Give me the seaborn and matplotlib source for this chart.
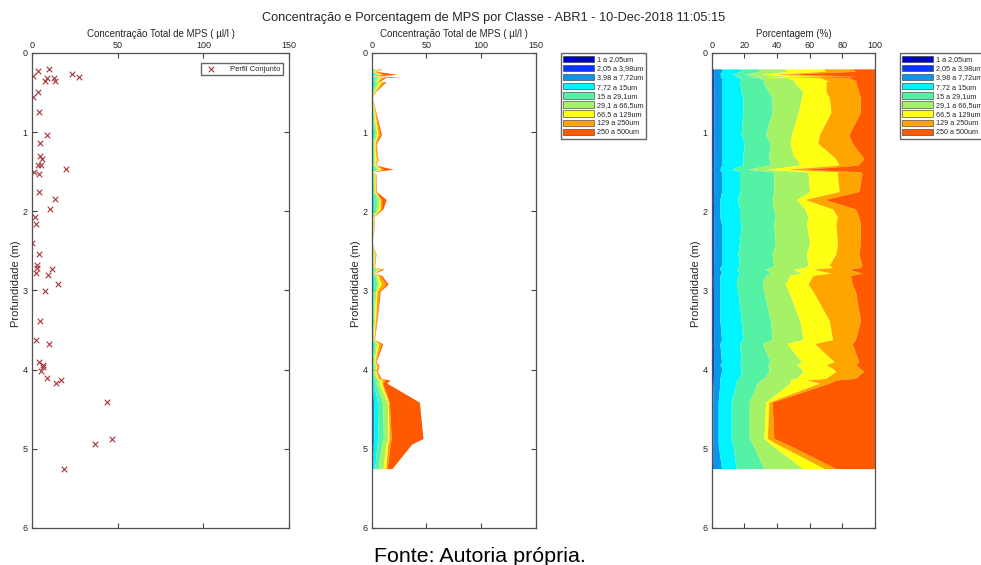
import numpy as np
import pandas as pd
import matplotlib
matplotlib.use('Agg')
import matplotlib.pyplot as plt
from matplotlib.patches import Patch
import seaborn as sns

# profundidade das amostras (m) e concentracao total de MPS (ul/l)
depth = [0.20, 0.23, 0.27, 0.29, 0.30, 0.31, 0.31, 0.36, 0.36, 0.49,
         0.56, 0.75, 1.03, 1.14, 1.30, 1.34, 1.41, 1.42, 1.47, 1.50,
         1.53, 1.75, 1.85, 1.97, 2.07, 2.16, 2.40, 2.54, 2.68, 2.71,
         2.73, 2.78, 2.81, 2.92, 3.01, 3.38, 3.62, 3.67, 3.90, 3.94,
         3.97, 4.02, 4.11, 4.13, 4.17, 4.41, 4.87, 4.94, 5.25]
total = [9.7, 3.5, 23.3, 0.5, 27.6, 8.7, 12.6, 7.4, 13.2, 3.5,
         0.4, 3.9, 8.9, 4.5, 4.9, 6.0, 3.7, 5.2, 19.8, 1.0,
         3.9, 4.3, 13.2, 10.3, 1.9, 2.5, 0.3, 3.9, 2.7, 3.1,
         11.5, 2.5, 9.3, 15.0, 7.8, 4.9, 2.5, 10.1, 4.1, 6.4,
         6.4, 5.1, 8.6, 16.7, 13.8, 43.6, 46.9, 36.6, 18.5]

# porcentagem acumulada (%) ate o fim de cada classe
cum_1 = [0.3, 0.3, 0.2, 0.4, 0.2, 0.3, 0.3, 0.3, 0.3, 0.4,
         0.4, 0.3, 0.3, 0.4, 0.3, 0.3, 0.3, 0.3, 0.2, 0.4,
         0.3, 0.3, 0.2, 0.3, 0.3, 0.3, 0.4, 0.3, 0.3, 0.3,
         0.2, 0.3, 0.2, 0.2, 0.3, 0.3, 0.3, 0.2, 0.3, 0.3,
         0.3, 0.3, 0.2, 0.2, 0.2, 0.1, 0.1, 0.1, 0.2]
cum_2 = [1.2, 1.3, 0.9, 1.4, 0.9, 1.2, 1.1, 1.2, 1.1, 1.3,
         1.4, 1.3, 1.2, 1.3, 1.2, 1.2, 1.3, 1.2, 0.9, 1.4,
         1.2, 1.2, 1.0, 1.1, 1.2, 1.2, 1.3, 1.2, 1.2, 1.1,
         1.0, 1.2, 1.0, 1.0, 1.1, 1.1, 1.2, 1.0, 1.2, 1.1,
         1.2, 1.2, 1.0, 1.0, 0.9, 0.6, 0.6, 0.7, 1.0]
cum_3 = [6, 6, 5, 6, 5, 6, 6, 6, 6, 6,
         6, 6, 6, 6, 6, 6, 6, 6, 5, 6,
         6, 6, 5, 5, 5, 6, 6, 6, 6, 5,
         5, 6, 5, 5, 5, 5, 6, 5, 6, 5,
         6, 6, 5, 5, 5, 4, 4, 4, 6]
cum_4 = [17, 18, 12, 18, 13, 19, 17, 18, 17, 18,
         19, 19, 18, 20, 19, 19, 19, 18, 12, 18,
         17, 17, 16, 17, 17, 18, 17, 16, 17, 16,
         15, 17, 16, 15, 16, 18, 19, 17, 18, 17,
         18, 18, 17, 15, 15, 12, 12, 13, 15]
cum_5 = [28, 30, 20, 31, 22, 32, 29, 33, 31, 35,
         37, 37, 33, 36, 35, 35, 36, 34, 22, 37,
         38, 38, 37, 38, 39, 38, 39, 37, 38, 36,
         33, 36, 33, 31, 32, 36, 37, 31, 36, 34,
         35, 35, 32, 30, 28, 23, 23, 25, 32]
cum_6 = [44, 47, 30, 48, 33, 50, 46, 52, 50, 56,
         55, 53, 49, 48, 50, 52, 54, 52, 34, 58,
         59, 60, 52, 57, 59, 58, 60, 58, 59, 57,
         50, 55, 48, 45, 47, 54, 56, 46, 55, 52,
         54, 56, 52, 48, 48, 33, 32, 36, 56]
cum_7 = [68, 70, 40, 71, 44, 70, 66, 72, 70, 70,
         72, 73, 66, 65, 74, 76, 78, 75, 46, 77,
         77, 78, 57, 74, 77, 76, 77, 76, 72, 74,
         62, 73, 62, 59, 62, 72, 74, 63, 75, 70,
         73, 76, 70, 58, 66, 35, 34, 40, 69]
cum_8 = [86, 88, 46, 89, 52, 88, 84, 89, 88, 90,
         91, 91, 84, 86, 92, 93, 90, 88, 56, 91,
         92, 90, 69, 88, 90, 91, 91, 90, 92, 91,
         84, 92, 85, 86, 88, 91, 88, 86, 90, 88,
         90, 93, 88, 76, 72, 37, 38, 46, 76]
cum_9 = [100] * len(depth)

classes = ['1 a 2,05um', '2,05 a 3,98um', '3,98 a 7,72um', '7,72 a 15um',
           '15 a 29,1um', '29,1 a 66,5um', '66,5 a 129um', '129 a 250um',
           '250 a 500um']
class_colors = ['#0000C8', '#0038FF', '#0A96E8', '#00F4FF', '#55F2A6',
                '#A6F266', '#FFFF14', '#FFA500', '#FF5A00']

df = pd.DataFrame({'depth': depth, 'total': total})
cum = np.array([cum_1, cum_2, cum_3, cum_4, cum_5, cum_6, cum_7, cum_8, cum_9])

sns.set_theme(style='white')
plt.rcParams['font.family'] = ['Liberation Sans', 'DejaVu Sans']

fig = plt.figure(figsize=(9.81, 5.65), dpi=100)
ax1 = fig.add_axes([0.0326, 0.0655, 0.262, 0.8407])
ax2 = fig.add_axes([0.3789, 0.0655, 0.1672, 0.8407])
ax3 = fig.add_axes([0.7255, 0.0655, 0.1665, 0.8407])


def matlab_axes(ax, xmax, xticks, xlabel, ylab_x):
    ax.set_xlim(0, xmax)
    ax.set_ylim(6, 0)
    ax.set_xticks(xticks)
    ax.set_yticks(range(7))
    ax.xaxis.set_label_position('top')
    ax.set_xlabel(xlabel, fontsize=7, color='#262626', labelpad=3)
    ax.set_ylabel('Profundidade (m)', fontsize=8, color='#262626')
    ax.yaxis.set_label_coords(ylab_x, 0.514)
    ax.tick_params(axis='x', top=True, labeltop=True, bottom=True, labelbottom=False,
                   direction='in', length=3.5, width=0.8, labelsize=6.5,
                   colors='#404040', labelcolor='#262626', pad=2)
    ax.tick_params(axis='y', left=True, right=True, direction='in', length=3.5,
                   width=0.8, labelsize=6.5, colors='#404040', labelcolor='#262626', pad=3)
    for s in ax.spines.values():
        s.set_color('#505050')
        s.set_linewidth(0.9)


# painel 1: perfil conjunto
sns.scatterplot(data=df, x='total', y='depth', marker='x', color='#A8343A', s=16,
                linewidth=0.8, ax=ax1, label='Perfil Conjunto')
matlab_axes(ax1, 150, [0, 50, 100, 150], 'Concentração Total de MPS ( µl/l )', -0.043)
ax1.legend(loc='upper right', bbox_to_anchor=(0.977, 0.979), fontsize=5.5,
           frameon=True, fancybox=False, edgecolor='#404040', borderpad=0.3,
           handletextpad=1.5, borderaxespad=0)

# painel 2: concentracao por classe empilhada
conc = cum * np.array(total) / 100.0
prev = np.zeros(len(depth))
for i in range(len(classes)):
    ax2.fill_betweenx(depth, prev, conc[i], color=class_colors[i], lw=0)
    prev = conc[i]
matlab_axes(ax2, 150, [0, 50, 100, 150], 'Concentração Total de MPS ( µl/l )', -0.067)

# painel 3: porcentagem por classe
prev = np.zeros(len(depth))
for i in range(len(classes)):
    ax3.fill_betweenx(depth, prev, cum[i], color=class_colors[i], lw=0)
    prev = cum[i]
matlab_axes(ax3, 100, [0, 20, 40, 60, 80, 100], 'Porcentagem (%)', -0.066)

handles = [Patch(facecolor=c, edgecolor='#303030', linewidth=0.4) for c in class_colors]
for ax in (ax2, ax3):
    ax.legend(handles, classes, loc='upper left', bbox_to_anchor=(1.152, 1.0),
              fontsize=5.2, frameon=True, fancybox=False, edgecolor='#404040',
              handlelength=4.2, handleheight=1.0, labelspacing=0.2,
              handletextpad=0.5, borderpad=0.35, borderaxespad=0)

fig.text(0.503, 0.969, 'Concentração e Porcentagem de MPS por Classe - ABR1 - 10-Dec-2018 11:05:15',
         ha='center', va='center', fontsize=9.2, color='#262626')
fig.text(0.489, 0.006, 'Fonte: Autoria própria.', ha='center', va='baseline',
         fontsize=15.4, color='black')

fig.savefig('out.png', dpi=100)
